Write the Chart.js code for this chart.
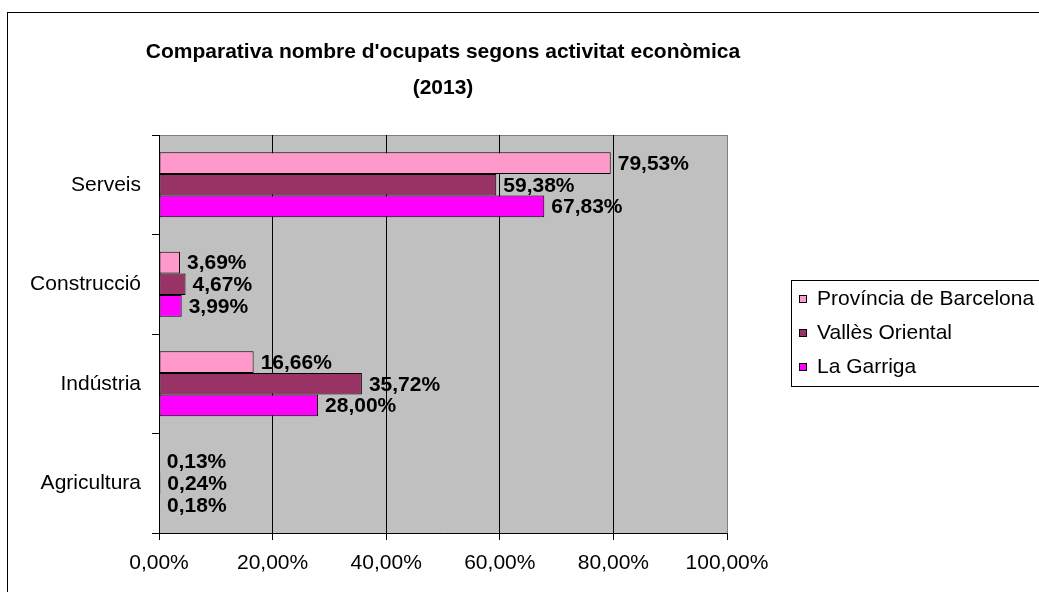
<!DOCTYPE html>
<html>
<head>
<meta charset="utf-8">
<script src="https://cdn.jsdelivr.net/npm/chart.js@4/dist/chart.umd.min.js"></script>
<style>
  html, body { margin: 0; padding: 0; background: #fff; overflow: hidden; }
  canvas { display: block; }
</style>
</head>
<body>
<canvas id="chart" width="1039" height="592"></canvas>
<script>
// dades: percentatge d'ocupats per sector (2013)
const categories = ['Serveis', 'Construcció', 'Indústria', 'Agricultura'];
const seriesNames = ['Província de Barcelona', 'Vallès Oriental', 'La Garriga'];
const provincia = [79.53, 3.69, 16.66, 0.13];
const valles = [59.38, 4.67, 35.72, 0.24];
const garriga = [67.83, 3.99, 28.00, 0.18];
const xTicks = [0, 20, 40, 60, 80, 100];
const titleLines = ["Comparativa nombre d'ocupats segons activitat econòmica", '(2013)'];

const colors = ['#FF99CC', '#993366', '#FF00FF'];
const FONT = 'Arial, "Liberation Sans", sans-serif';

const fmtPct = (v) => v.toFixed(2).replace('.', ',') + '%';

// fons gris de l'àrea del gràfic i marc exterior
const backgroundPlugin = {
  id: 'plotBackground',
  beforeDraw(chart) {
    const { ctx, chartArea: a } = chart;
    ctx.save();
    ctx.strokeStyle = '#000';
    ctx.lineWidth = 1;
    ctx.strokeRect(7.5, 12.5, 1200, 800);
    ctx.fillStyle = '#C0C0C0';
    ctx.fillRect(a.left, a.top, a.right - a.left, a.bottom - a.top);
    ctx.strokeStyle = '#808080';
    ctx.strokeRect(a.left + 0.5, a.top + 0.5, a.right - a.left, a.bottom - a.top);
    ctx.restore();
  },
};

// títol centrat sobre l'àrea del gràfic (el de Chart.js es comprimeix)
const titlePlugin = {
  id: 'centeredTitle',
  afterDraw(chart) {
    const { ctx, chartArea: a } = chart;
    const cx = (a.left + a.right) / 2;
    ctx.save();
    ctx.font = `bold 21px ${FONT}`;
    ctx.fillStyle = '#000';
    ctx.textAlign = 'center';
    ctx.textBaseline = 'middle';
    titleLines.forEach((line, i) => ctx.fillText(line, cx, 52 + i * 36));
    ctx.restore();
  },
};

// etiquetes de valor al final de cada barra
const valueLabelPlugin = {
  id: 'valueLabels',
  afterDatasetsDraw(chart) {
    const { ctx } = chart;
    ctx.save();
    ctx.font = `bold 21px ${FONT}`;
    ctx.fillStyle = '#000';
    ctx.textAlign = 'left';
    ctx.textBaseline = 'middle';
    chart.data.datasets.forEach((ds, i) => {
      chart.getDatasetMeta(i).data.forEach((bar, j) => {
        ctx.fillText(fmtPct(ds.data[j]), bar.x + 7, bar.y + 1);
      });
    });
    ctx.restore();
  },
};

// llegenda amb marc, a la dreta
const boxLegendPlugin = {
  id: 'boxLegend',
  afterDraw(chart) {
    const { ctx } = chart;
    const left = 791, top = 280, bottom = 386;
    ctx.save();
    ctx.strokeStyle = '#000';
    ctx.lineWidth = 1;
    ctx.strokeRect(left + 0.5, top + 0.5, 400, bottom - top);
    ctx.font = `21px ${FONT}`;
    ctx.textBaseline = 'middle';
    chart.data.datasets.forEach((ds, i) => {
      const y = 299 + i * 34;
      ctx.fillStyle = ds.backgroundColor;
      ctx.fillRect(799, y - 4, 8, 8);
      ctx.strokeStyle = '#000';
      ctx.strokeRect(799.5, y - 3.5, 7, 7);
      ctx.fillStyle = '#000';
      ctx.fillText(ds.label, 817, y);
    });
    ctx.restore();
  },
};

const seriesData = [provincia, valles, garriga];

new Chart(document.getElementById('chart'), {
  type: 'bar',
  data: {
    labels: categories,
    datasets: seriesNames.map((name, i) => ({
      label: name,
      data: seriesData[i],
      backgroundColor: colors[i],
      borderColor: '#000',
      borderWidth: 1,
      borderSkipped: false,
      categoryPercentage: 0.653,
      barPercentage: 1,
    })),
  },
  options: {
    indexAxis: 'y',
    responsive: false,
    animation: false,
    layout: { padding: { left: 0, right: 312, top: 135, bottom: 0 } },
    plugins: {
      legend: { display: false },
      tooltip: { enabled: false },
      title: { display: false },
    },
    scales: {
      x: {
        type: 'linear',
        min: 0,
        max: 100,
        afterFit: (s) => { s.height = 59; },
        afterBuildTicks: (s) => { s.ticks = xTicks.map(v => ({ value: v })); },
        ticks: {
          color: '#000',
          font: { family: FONT, size: 21 },
          padding: 11,
          maxRotation: 0,
          callback: (v) => fmtPct(v),
        },
        grid: {
          color: (c) => (c.tick && c.tick.value === 100 ? '#808080' : '#000'),
          tickColor: '#000',
          tickLength: 7,
          drawTicks: true,
        },
        border: { display: true, color: '#000', width: 1 },
      },
      y: {
        afterFit: (s) => { s.width = 159; },
        ticks: {
          color: '#000',
          font: { family: FONT, size: 21 },
          padding: 11,
        },
        grid: {
          offset: true,
          drawOnChartArea: false,
          drawTicks: true,
          tickLength: 7,
          tickColor: '#000',
        },
        border: { display: true, color: '#000', width: 1 },
      },
    },
  },
  plugins: [backgroundPlugin, valueLabelPlugin, boxLegendPlugin, titlePlugin],
});
</script>
</body>
</html>
